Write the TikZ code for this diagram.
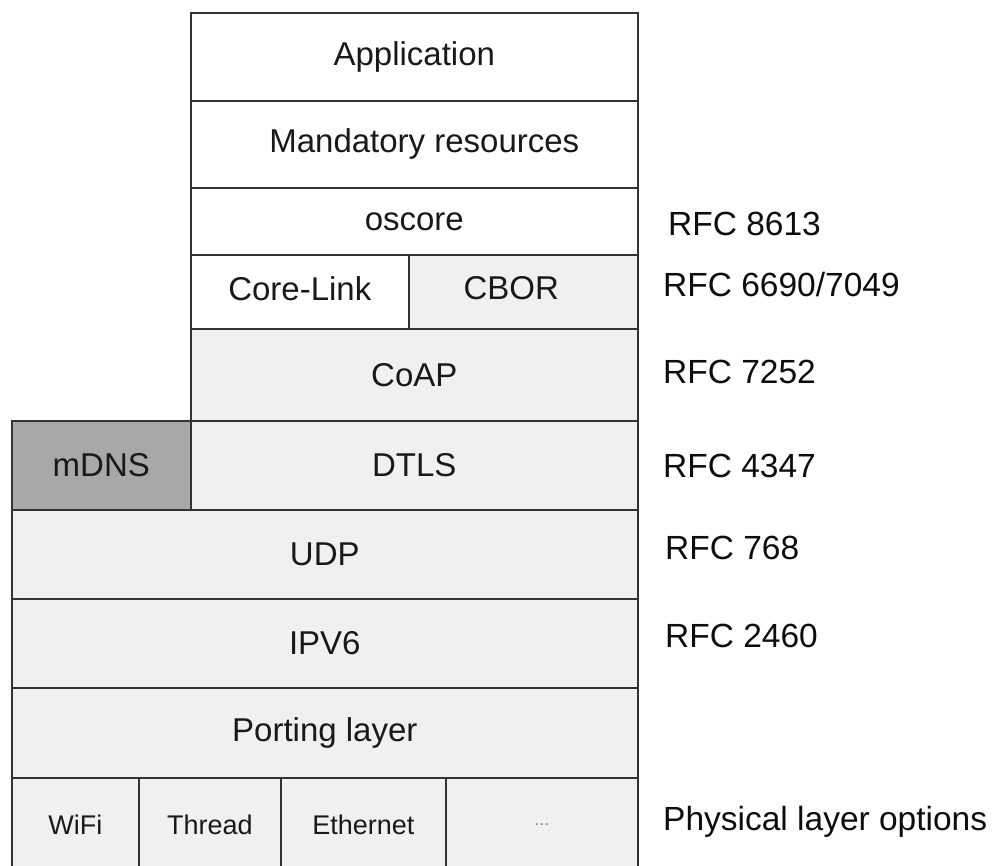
\documentclass[tikz,border=0pt]{standalone}
\usepackage{fontspec}
\setmainfont{Liberation Sans}
\begin{document}
\begin{tikzpicture}[x=1pt,y=-1pt,
  layer/.style={draw=black!80, line width=1.6pt, anchor=north west, inner sep=0pt,
    font=\fontsize{33}{38}\selectfont, text=black!90},
  white/.style={fill=white},
  light/.style={fill=black!6},
  dark/.style={fill=black!34},
  phys/.style={layer, light, font=\fontsize{27}{30}\selectfont},
  rfc/.style={anchor=west, inner sep=0pt, font=\fontsize{33.5}{38}\selectfont, text=black!95}]
\useasboundingbox (0,0) rectangle (995,865);
\clip (0,0) rectangle (995,865);
% upper stack
\node[layer, white, minimum width=447pt, minimum height=88pt] (app) at (190,12) {Application};
\node[layer, white, minimum width=447pt, minimum height=87pt] (mand) at (190,100) {\hspace{20pt}Mandatory resources};
\node[layer, white, minimum width=447pt, minimum height=67pt] (osc) at (190,187) {oscore};
\node[layer, white, minimum width=218pt, minimum height=74pt] (cl) at (190,254) {\raisebox{6pt}{Core-Link}};
\node[layer, light, minimum width=229pt, minimum height=74pt] (cbor) at (408,254) {\raisebox{8pt}{CBOR}\kern24pt};
\node[layer, light, minimum width=447pt, minimum height=92pt] (coap) at (190,328) {CoAP};
\node[layer, dark, minimum width=179pt, minimum height=89pt] (mdns) at (11,420) {mDNS};
\node[layer, light, minimum width=447pt, minimum height=89pt] (dtls) at (190,420) {DTLS};
\node[layer, light, minimum width=626pt, minimum height=89pt] (udp) at (11,509) {UDP};
\node[layer, light, minimum width=626pt, minimum height=89pt] (ipv6) at (11,598) {IPV6};
\node[layer, light, minimum width=626pt, minimum height=90pt] (port) at (11,687) {Porting layer};
% physical layer options
\node[phys, minimum width=127pt, minimum height=100pt] (wifi) at (11,777) {\raisebox{6pt}{WiFi}};
\node[phys, minimum width=142pt, minimum height=100pt] (thread) at (138,777) {\raisebox{6pt}{Thread}};
\node[phys, minimum width=165pt, minimum height=100pt] (eth) at (280,777) {\raisebox{6pt}{Ethernet}};
\node[phys, minimum width=192pt, minimum height=100pt, text=black!45, font=\fontsize{18}{20}\selectfont] (more) at (445,777) {\raisebox{6pt}{...}};
% RFC labels
\node[rfc] (r1) at (668,224) {RFC 8613};
\node[rfc] (r2) at (663,285) {RFC 6690/7049};
\node[rfc] (r3) at (663,372) {RFC 7252};
\node[rfc] (r4) at (663,466) {RFC 4347};
\node[rfc] (r5) at (665,548) {RFC 768};
\node[rfc] (r6) at (665,636) {RFC 2460};
\node[rfc] (r7) at (663,822) {Physical layer options};
\end{tikzpicture}
\end{document}
